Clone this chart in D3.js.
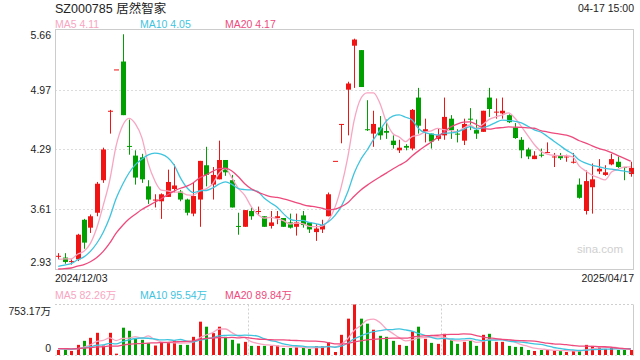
<!DOCTYPE html>
<html><head><meta charset="utf-8">
<script src="https://cdn.jsdelivr.net/npm/d3@7/dist/d3.min.js"></script>
<style>
body{margin:0;background:#fff}
text{font-family:Arial,"Liberation Sans","Noto Sans CJK SC",sans-serif}
</style>
</head><body>
<svg id="c" width="640" height="360"></svg>
<script>
// ---------- DATA ----------
const dates = [
"2024/12/03","2024/12/04","2024/12/05","2024/12/06","2024/12/09","2024/12/10","2024/12/11","2024/12/12","2024/12/13","2024/12/16",
"2024/12/17","2024/12/18","2024/12/19","2024/12/20","2024/12/23","2024/12/24","2024/12/25","2024/12/26","2024/12/27","2024/12/30",
"2024/12/31","2025/01/02","2025/01/03","2025/01/06","2025/01/07","2025/01/08","2025/01/09","2025/01/10","2025/01/13","2025/01/14",
"2025/01/15","2025/01/16","2025/01/17","2025/01/20","2025/01/21","2025/01/22","2025/01/23","2025/01/24","2025/01/27","2025/02/05",
"2025/02/06","2025/02/07","2025/02/10","2025/02/11","2025/02/12","2025/02/13","2025/02/14","2025/02/17","2025/02/18","2025/02/19",
"2025/02/20","2025/02/21","2025/02/24","2025/02/25","2025/02/26","2025/02/27","2025/02/28","2025/03/03","2025/03/04","2025/03/05",
"2025/03/06","2025/03/07","2025/03/10","2025/03/11","2025/03/12","2025/03/13","2025/03/14","2025/03/17","2025/03/18","2025/03/19",
"2025/03/20","2025/03/21","2025/03/24","2025/03/25","2025/03/26","2025/03/27","2025/03/28","2025/03/31","2025/04/01","2025/04/02",
"2025/04/03","2025/04/07","2025/04/08","2025/04/09","2025/04/10","2025/04/11","2025/04/14","2025/04/15","2025/04/16","2025/04/17"];

const openP = [3.07,3.06,3.01,3.04,3.49,3.40,3.57,3.94,4.72,5.20,
5.29,4.33,4.22,4.20,3.87,3.71,3.70,3.75,3.84,3.81,
3.72,3.56,3.72,4.11,3.89,3.95,4.17,3.94,3.42,3.41,
3.59,3.58,3.53,3.42,3.51,3.51,3.46,3.41,3.54,3.46,
3.35,3.38,3.53,4.16,4.58,4.97,5.47,5.42,4.52,4.47,
4.54,4.50,4.39,4.28,4.33,4.30,4.88,4.49,4.47,4.41,
4.45,4.64,4.47,4.39,4.64,4.51,4.49,4.88,4.71,4.70,
4.68,4.54,4.40,4.29,4.18,4.23,4.25,4.20,4.22,4.20,
4.14,3.89,3.59,3.86,4.04,4.00,4.12,4.15,4.09,4.01];
const highP = [3.11,3.11,3.04,3.33,3.50,3.55,3.92,4.31,4.74,5.20,
5.60,4.63,4.28,4.24,3.94,3.78,3.79,4.06,4.12,3.83,
3.73,3.91,4.16,4.32,4.09,4.39,4.17,4.00,3.57,3.60,
3.63,3.64,3.53,3.59,3.59,3.51,3.56,3.56,3.59,3.46,
3.44,3.49,3.80,4.16,4.58,5.06,5.55,5.42,4.85,4.73,
4.67,4.63,4.45,4.40,4.35,4.75,4.99,4.64,4.47,4.53,
4.88,4.68,4.52,4.64,4.76,4.63,4.73,4.99,4.87,4.88,
4.69,4.59,4.43,4.31,4.27,4.30,4.37,4.25,4.25,4.23,
4.25,3.96,4.05,4.13,4.18,4.11,4.24,4.21,4.09,4.15];
const lowP = [3.04,2.99,2.98,3.02,3.16,3.34,3.53,3.91,4.47,5.20,
4.68,4.23,3.89,3.91,3.67,3.63,3.50,3.75,3.80,3.70,
3.54,3.53,3.41,3.87,3.72,3.95,3.99,3.63,3.32,3.41,
3.49,3.54,3.41,3.39,3.44,3.41,3.39,3.31,3.40,3.34,
3.25,3.34,3.53,4.16,4.36,4.45,4.99,5.00,4.50,4.32,
4.40,4.41,4.30,4.25,4.28,4.28,4.47,4.37,4.30,4.39,
4.40,4.41,4.37,4.34,4.51,4.41,4.49,4.66,4.64,4.64,
4.59,4.41,4.19,4.18,4.18,4.20,4.25,4.09,4.17,4.15,
4.13,3.73,3.55,3.56,4.01,3.99,4.11,4.08,3.94,3.98];
const closeP = [3.08,3.01,3.02,3.32,3.23,3.53,3.90,4.29,4.73,5.20,
4.68,4.32,3.97,3.95,3.72,3.72,3.78,3.92,3.88,3.72,
3.57,3.76,4.16,4.00,4.00,4.17,4.03,3.63,3.41,3.60,
3.53,3.59,3.41,3.46,3.53,3.41,3.40,3.46,3.43,3.38,
3.39,3.43,3.78,4.16,4.58,5.04,5.54,5.00,4.51,4.58,
4.45,4.48,4.34,4.31,4.31,4.74,4.56,4.52,4.38,4.45,
4.66,4.51,4.46,4.58,4.63,4.47,4.73,4.75,4.72,4.73,
4.60,4.42,4.28,4.21,4.22,4.22,4.26,4.21,4.19,4.21,
4.15,3.74,3.93,3.95,4.07,4.03,4.18,4.09,4.08,4.08];
// volume, 万股
const volume = [75,85,60,151,211,256,331,141,331,20,
407,361,251,226,176,141,191,191,216,151,
151,271,497,422,326,422,271,226,171,196,
136,136,136,136,141,105,105,115,105,90,
131,131,191,45,301,542,753.17,542,467,377,
286,271,211,151,136,351,422,241,181,166,
316,226,166,196,211,136,301,316,196,196,
136,121,121,75,60,75,75,65,60,45,
60,60,151,136,121,90,105,75,75,75];
// estimated sessions before the window (needed only to start the moving averages)
const prevClose = [2.92,2.88,2.90,2.86,2.89,2.93,2.91,2.87,2.92,2.92,2.86,2.87,2.89,2.88,2.90,2.98,3.03,3.05,3.06];
const prevVolume = [95,88,102,90,85,97,110,92,88,95,100,105,93,87,96,108,99,91,94];

const priceTicks = ["5.66","4.97","4.29","3.61","2.93"];
const priceMin = 2.93, priceMax = 5.66;
const volMax = 753.17;
const volTickLabels = ["753.17万","0"];
const title = "SZ000785 居然智家";
const timeLabel = "04-17 15:00";
const maPeriods = [5,10,20];
const maLabels = ["MA5 4.11","MA10 4.05","MA20 4.17"];
const volMaLabels = ["MA5 82.26万","MA10 95.54万","MA20 89.84万"];

// ---------- STYLE ----------
const maColors = ["#f8a5c2","#3fc4df","#ee4a7d"];
const UP = "#f01414", DOWN = "#00a000";
const L = 55, R = 634, PT = 29, PB = 269, VT = 304.5, VB = 355;

const svg = d3.select("#c");
const n = closeP.length;
const x = d3.scaleBand().domain(d3.range(n)).range([L, R]);
const cx = i => Math.round(x(i) + x.bandwidth()/2);
const y = d3.scaleLinear().domain([priceMin, priceMax]).range([PB, PT]);
const yv = d3.scaleLinear().domain([0, volMax]).range([VB, VT]);

const isUp = i => closeP[i] > openP[i] ? true : closeP[i] < openP[i] ? false :
  (i === 0 ? true : closeP[i] >= closeP[i-1]);

// grid lines price
const gridVals = priceTicks.map(Number).slice(1, -1);
svg.selectAll(".g").data(gridVals).enter().append("line")
  .attr("x1", L).attr("x2", R)
  .attr("y1", d => Math.round(y(d)) + 0.5).attr("y2", d => Math.round(y(d)) + 0.5)
  .attr("stroke", "#dcdcdc").attr("stroke-dasharray", "2,2");

// price border
svg.append("rect").attr("x", L + 0.5).attr("y", PT + 0.5)
  .attr("width", R - L - 1).attr("height", PB - PT)
  .attr("fill", "none").attr("stroke", "#cccccc");

// watermark
svg.append("text").attr("x", 623).attr("y", 253).attr("text-anchor", "end")
  .attr("font-size", 11.5).attr("fill", "#cfcfcf").text("sina.com");

// moving averages
function ma(series, prev, p) {
  const all = prev.concat(series), off = prev.length;
  return series.map((_, i) => d3.mean(all.slice(i + off - p + 1, i + off + 1)));
}
const priceLine = d3.line().x((d, i) => x(i) + x.bandwidth()/2).y(d => y(d)).curve(d3.curveMonotoneX);
const volLine = d3.line().x((d, i) => x(i) + x.bandwidth()/2).y(d => yv(d)).curve(d3.curveMonotoneX);

// candles
const cg = svg.append("g");
d3.range(n).forEach(i => {
  const c = isUp(i) ? UP : DOWN;
  const xc = cx(i);
  cg.append("line").attr("x1", xc + 0.5).attr("x2", xc + 0.5)
    .attr("y1", y(highP[i])).attr("y2", y(lowP[i])).attr("stroke", c);
  const top = y(Math.max(openP[i], closeP[i])), bot = y(Math.min(openP[i], closeP[i]));
  cg.append("rect").attr("x", xc - 2).attr("width", 5)
    .attr("y", top).attr("height", Math.max(1, bot - top)).attr("fill", c);
});

maPeriods.forEach((p, k) => {
  svg.append("path").datum(ma(closeP, prevClose, p)).attr("d", priceLine)
    .attr("fill", "none").attr("stroke", maColors[k]).attr("stroke-width", 1.3);
});

// labels
svg.append("text").attr("x", L).attr("y", 13).attr("font-size", 12.5).attr("fill", "#222").text(title);
svg.append("text").attr("x", R).attr("y", 12).attr("text-anchor", "end").attr("font-size", 10.5).attr("fill", "#222").text(timeLabel);
const legX = [55, 140, 225];
maLabels.forEach((t, k) => svg.append("text").attr("x", legX[k]).attr("y", 28)
  .attr("font-size", 10.5).attr("fill", maColors[k]).text(t));
volMaLabels.forEach((t, k) => svg.append("text").attr("x", legX[k]).attr("y", 298.5)
  .attr("font-size", 10.5).attr("fill", maColors[k]).text(t));

priceTicks.forEach((t, k) => {
  const v = Number(t);
  let yy = y(v) + 4;
  if (k === 0) yy = PT + 9.5;
  if (k === priceTicks.length - 1) yy = PB - 3;
  svg.append("text").attr("x", 51).attr("y", yy).attr("text-anchor", "end")
    .attr("font-size", 10.5).attr("fill", "#222").text(t);
});

svg.append("text").attr("x", L).attr("y", 281.5).attr("font-size", 10.5).attr("fill", "#222").text(dates[0]);
svg.append("text").attr("x", R).attr("y", 281.5).attr("text-anchor", "end").attr("font-size", 10.5).attr("fill", "#222").text(dates[n-1]);

// volume panel frame
svg.append("line").attr("x1", L).attr("x2", R).attr("y1", VT).attr("y2", VT)
  .attr("stroke", "#cfcfcf").attr("stroke-dasharray", "2,2");
svg.append("line").attr("x1", L).attr("x2", R).attr("y1", VB + 0.5).attr("y2", VB + 0.5)
  .attr("stroke", "#dcdcdc").attr("stroke-dasharray", "2,2");
svg.append("line").attr("x1", R - 0.5).attr("x2", R - 0.5).attr("y1", VT).attr("y2", VB + 1)
  .attr("stroke", "#cccccc");
[1, 2].forEach(k => {
  const xx = Math.round(L + (R - L) * k / 3) + 0.5;
  svg.append("line").attr("x1", xx).attr("x2", xx).attr("y1", VT).attr("y2", VB)
    .attr("stroke", "#d0d0d0").attr("stroke-dasharray", "2,2");
});

// volume bars
const vg = svg.append("g");
d3.range(n).forEach(i => {
  const top = yv(volume[i]);
  vg.append("rect").attr("x", cx(i) - 1).attr("width", 3)
    .attr("y", top).attr("height", VB - top).attr("fill", isUp(i) ? UP : DOWN);
});
maPeriods.forEach((p, k) => {
  svg.append("path").datum(ma(volume, prevVolume, p)).attr("d", volLine)
    .attr("fill", "none").attr("stroke", maColors[k]).attr("stroke-width", 1.3);
});

svg.append("text").attr("x", 51).attr("y", 314.5).attr("text-anchor", "end")
  .attr("font-size", 10.5).attr("fill", "#222").text(volTickLabels[0]);
svg.append("text").attr("x", 51).attr("y", 352).attr("text-anchor", "end")
  .attr("font-size", 10.5).attr("fill", "#222").text(volTickLabels[1]);
</script>
</body></html>
